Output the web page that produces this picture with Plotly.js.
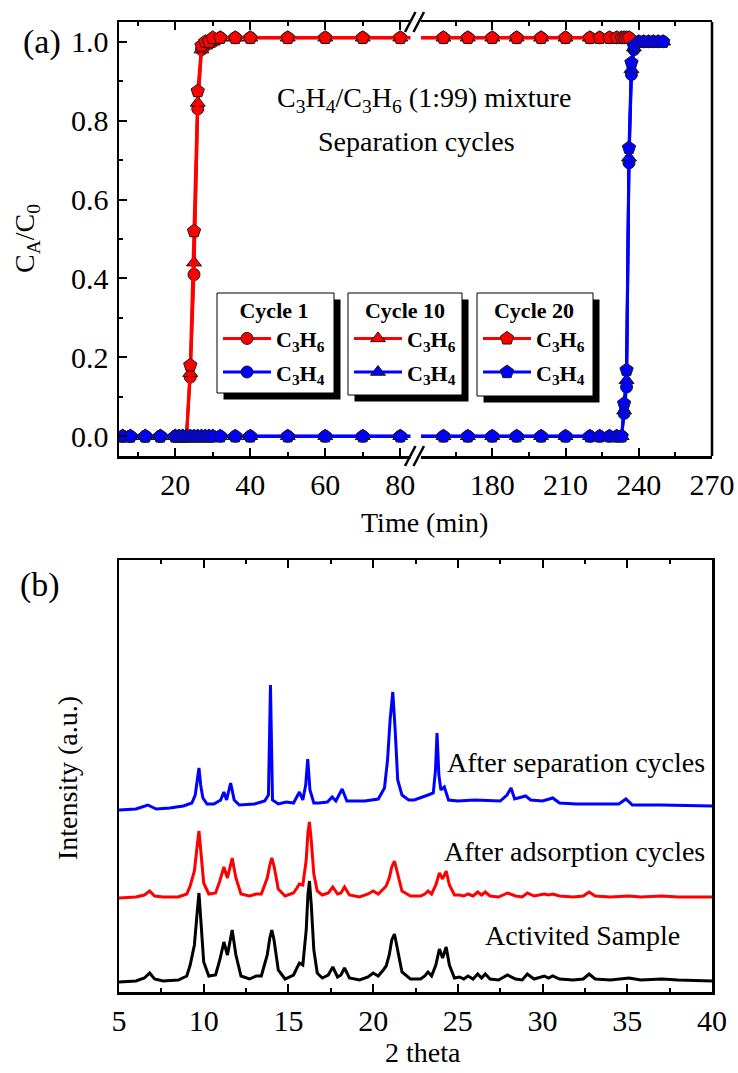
<!DOCTYPE html>
<html><head><meta charset="utf-8">
<script src="https://cdn.plot.ly/plotly-3.0.1.min.js"></script>
<style>html,body{margin:0;padding:0;background:#fff;}#chart{width:738px;height:1073px;}</style>
</head><body><div id="chart"></div>
<script>
// ---------------- Panel (a): breakthrough data ----------------
const timeC3H6 = [6, 8, 12, 16, 20, 21, 22, 23, 24, 25, 26, 27, 28, 29, 30, 32, 36, 40, 50, 60, 70, 80,
  160, 170, 180, 190, 200, 210, 220, 224, 228, 231, 233, 234, 235, 236];
const timeC3H4 = [6, 8, 12, 16, 20, 21, 22, 23, 24, 25, 26, 27, 28, 29, 30, 32, 36, 40, 50, 60, 70, 80,
  160, 170, 180, 190, 200, 210, 220, 224, 228, 231, 233, 234, 235, 236, 237, 238, 240, 242, 244, 246, 248, 250];

const c3h6Cycle1  = [0,0,0,0,0,0,0,0, 0.15,0.41,0.83,0.98,0.99,1.00,1.00,
  1.01,1.01,1.01,1.01,1.01,1.01,1.01,1.01,1.01,1.01,1.01,1.01,1.01,1.01,1.01,1.01,1.01,1.01,1.01,1.01,1.01];
const c3h6Cycle10 = [0,0,0,0,0,0,0,0, 0.16,0.44,0.845,0.98,0.99,1.00,1.00,
  1.01,1.01,1.01,1.01,1.01,1.01,1.01,1.01,1.01,1.01,1.01,1.01,1.01,1.01,1.01,1.01,1.01,1.01,1.01,1.01,1.01];
const c3h6Cycle20 = [0,0,0,0,0,0,0,0, 0.18,0.52,0.875,0.99,1.00,1.00,1.01,
  1.01,1.01,1.01,1.01,1.01,1.01,1.01,1.01,1.01,1.01,1.01,1.01,1.01,1.01,1.01,1.01,1.01,1.01,1.01,1.01,1.01];

const c3h4Cycle1  = [0,0,0,0,0,0,0,0,0,0,0,0,0,0,0,0,0,0,0,0,0,0,0,0,0,0,0,0,0,0,0,0,0,
  0.058,0.125,0.693,0.917,0.98, 1.0,1.0,1.0,1.0,1.0,1.0];
const c3h4Cycle10 = [0,0,0,0,0,0,0,0,0,0,0,0,0,0,0,0,0,0,0,0,0,0,0,0,0,0,0,0,0,0,0,0,0,
  0.065,0.142,0.706,0.93,0.985, 1.0,1.0,1.0,1.0,1.0,1.0];
const c3h4Cycle20 = [0,0,0,0,0,0,0,0,0,0,0,0,0,0,0,0,0,0,0,0,0,0,0,0,0,0,0,0,0,0,0,0,0,
  0.083,0.168,0.731,0.947,0.99, 1.0,1.0,1.0,1.0,1.0,1.0];

const cycleNames = ['Cycle 1', 'Cycle 10', 'Cycle 20'];
const seg1TickVals = [20, 40, 60, 80];
const seg2TickVals = [180, 210, 240, 270];

// ---------------- Panel (b): PXRD data ----------------
const twoThetaA = [5.0,6.0,6.5,6.81,7.1,7.6,8.5,9.0,9.2,9.45, 9.6,9.72,9.85,10.0,10.3,10.7,10.95,11.19,11.4,11.68,
  11.9,12.2,12.7,13.1,13.4,13.75,13.9,14.02,14.15,14.4, 14.8,15.3,15.5,15.65,15.85,16.05,16.15,16.24,16.35,16.5,
  16.7,17.0,17.35,17.62,17.9,18.1,18.31,18.6,19.2,19.7, 20.0,20.3,20.6,20.77,20.95,21.1,21.26,21.45,21.7,22.2,
  22.8,23.05,23.24,23.45,23.7,23.91,24.1,24.31,24.5,24.8, 25.1,25.35,25.6,25.9,26.17,26.4,26.62,26.9,27.4,27.93,
  28.4,28.8,29.1,29.5,30.1,30.35,30.6,31.0,31.8,32.4, 32.75,33.1,34.0,35.1,35.8,37.05,38.0,40.0];
const activated = [10,11,14,19,13,11,12,16,27,47, 77,99,67,30,16,17,32,50,37,62,
  37,16,13,16,16,37,54,62,52,22, 13,17,24,29,27,62,97,111,87,42,
  19,14,17,25,15,17,24,14,12,15, 19,16,22,26,37,52,58,42,20,13,
  13,16,20,16,27,43,34,45,27,14, 15,13,16,13,18,14,18,13,12,17,
  13,12,18,13,16,14,16,13,12,13, 18,13,12,14,12,13,12,11];
const afterAdsorption = [94,95,97,101,96,95,95,98,106,121, 144,161,137,109,98,99,111,125,114,134,
  114,98,96,98,98,114,127,134,126,103, 96,99,104,108,107,132,159,170,151,118,
  101,97,99,105,98,99,105,97,95,98, 101,98,103,106,114,125,131,118,101,96,
  96,98,101,98,107,119,113,121,107,97, 97,96,98,96,100,97,100,96,95,99,
  96,95,99,96,98,97,98,96,95,96, 100,96,95,96,95,96,95,95];
const twoThetaB = [5.0,6.0,6.7,7.2,8.0,8.8,9.3,9.5,9.62,9.72, 9.82,9.95,10.2,10.6,11.0,11.19,11.35,11.59,11.8,12.1,
  13.0,13.6,13.82,13.94,14.06,14.4,14.87,15.3,15.65,15.85, 16.02,16.14,16.27,16.5,16.8,17.3,17.58,17.8,18.17,18.45,
  19.5,20.3,20.67,20.85,21.0,21.16,21.3,21.45,21.7,22.1, 22.43,23.0,23.24,23.55,23.68,23.77,23.88,24.0,24.2,24.45,
  25.0,26.0,27.5,27.9,28.14,28.35,29.0,29.3,30.0,30.6, 31.0,32.0,33.0,34.5,34.92,35.3,37.0,40.0];
const afterSeparation = [182,183,187,183,184,186,189,197,212,224, 207,194,188,188,192,200,192,209,192,187,
  188,191,197,307,192,188,190,189,200,192, 207,233,202,189,189,190,195,191,203,191,
  191,193,204,232,272,300,262,212,197,192, 192,195,197,199,222,259,217,202,205,192,
  191,192,191,197,204,193,196,192,191,194, 189,188,188,188,193,187,187,186];

// ---------------- layout helpers ----------------
const F = 'Liberation Serif, Times New Roman, serif';
const L = 119, R = 712, T = 22, B = 992;
const px = p => (p - L) / (R - L);
const py = p => (B - p) / (B - T);
const RED = '#ff0000', BLUE = '#0000ff';
const symbols = ['circle', 'triangle-up', 'pentagon'];
const msize = [12, 13, 14];
const legendIds = ['legend', 'legend2', 'legend3'];

const c3h6 = [c3h6Cycle1, c3h6Cycle10, c3h6Cycle20];
const c3h4 = [c3h4Cycle1, c3h4Cycle10, c3h4Cycle20];
const name6 = '<b>C<sub>3</sub>H<sub>6</sub></b>';
const name4 = '<b>C<sub>3</sub>H<sub>4</sub></b>';

const traces = [];
function addSeries(x, y, color, i, name, gid) {
  ['x', 'x3'].forEach((xa, k) => {
    traces.push({
      type: 'scatter', mode: 'lines+markers', x: x, y: y, xaxis: xa, yaxis: 'y',
      name: name, legend: legendIds[i], showlegend: k === 0, legendgroup: gid + i,
      line: {color: color, width: 3},
      marker: {symbol: symbols[i], size: msize[i], color: color, line: {color: '#1a1a1a', width: 1}}
    });
  });
}
for (let i = 0; i < 3; i++) addSeries(timeC3H6, c3h6[i], RED, i, name6, 'c3h6_');
for (let i = 0; i < 3; i++) addSeries(timeC3H4, c3h4[i], BLUE, i, name4, 'c3h4_');

traces.push({type:'scatter', mode:'lines', x: twoThetaA, y: activated, xaxis:'x2', yaxis:'y2', showlegend:false, line:{color:'#000', width:3}});
traces.push({type:'scatter', mode:'lines', x: twoThetaA, y: afterAdsorption, xaxis:'x2', yaxis:'y2', showlegend:false, line:{color:RED, width:3}});
traces.push({type:'scatter', mode:'lines', x: twoThetaB, y: afterSeparation, xaxis:'x2', yaxis:'y2', showlegend:false, line:{color:BLUE, width:3}});

const tickFont = {family: F, size: 30, color: '#000'};
const axBase = {showline: true, linecolor: '#000', linewidth: 2.5, ticks: 'inside', ticklen: 8, tickwidth: 2,
  tickcolor: '#000', showgrid: false, zeroline: false, tickfont: tickFont, fixedrange: true};
const minorBase = {ticks: 'inside', ticklen: 4, tickwidth: 2, tickcolor: '#000', showgrid: false};

const splitX = px(419);

const legendBoxes = [[217, 293, 334, 393], [348, 293, 462, 395], [477, 293, 593, 396]];
const legends = {};
legendBoxes.forEach((b, i) => {
  legends[legendIds[i]] = {
    x: px(b[0] + 1), y: py(b[1] - 4), xanchor: 'left', yanchor: 'top', xref: 'paper', yref: 'paper',
    bgcolor: 'rgba(0,0,0,0)', borderwidth: 0, itemwidth: 48, traceorder: 'grouped', tracegroupgap: 2,
    font: {family: F, size: 22, color: '#000'},
    title: {text: '<b>' + cycleNames[i] + '</b>', side: 'top center', font: {family: F, size: 22, color: '#000'}},
    itemclick: false, itemdoubleclick: false
  };
});

const shapes = [];
legendBoxes.forEach(b => {
  shapes.push({type:'rect', xref:'paper', yref:'paper', layer:'above', x0: px(b[0] + 6.5), x1: px(b[2] + 6.5),
    y0: py(b[3] + 6.5), y1: py(b[1] + 6.5), fillcolor:'#000', line:{width:0}});
  shapes.push({type:'rect', xref:'paper', yref:'paper', layer:'above', x0: px(b[0]), x1: px(b[2]),
    y0: py(b[3]), y1: py(b[1]), fillcolor:'#fff', line:{color:'#000', width:1}});
});
// right border of panel (a)
shapes.push({type:'line', xref:'paper', yref:'paper', layer:'above', x0:1, x1:1, y0: py(456), y1: 1,
  line:{color:'#000', width:2.5}});
// axis break: white gaps and // marks
[[8, 50], [424, 467]].forEach(g => {
  shapes.push({type:'rect', xref:'paper', yref:'paper', layer:'above', x0: px(410.5), x1: px(421),
    y0: py(g[1]), y1: py(g[0]), fillcolor:'#fff', line:{width:0}});
});
[22, 456].forEach(yc => {
  [0, 8.5].forEach(dx => {
    shapes.push({type:'line', xref:'paper', yref:'paper', layer:'above',
      x0: px(405 + dx), y0: py(yc + 10), x1: px(415.5 + dx), y1: py(yc - 10), line:{color:'#000', width:2.5}});
  });
});

const ann = (text, x, y, size, opts) => Object.assign({text: text, x: px(x), y: py(y), xref:'paper', yref:'paper',
  showarrow:false, font:{family:F, size:size, color:'#000'}, xanchor:'center', yanchor:'middle'}, opts || {});

const annotations = [
  ann('(a)', 42, 42, 34),
  ann('(b)', 40, 585, 34),
  ann('C<sub>A</sub>/C<sub>0</sub>', 27, 239, 28, {textangle: -90}),
  ann('Time (min)', 424, 522, 28),
  ann('C<sub>3</sub>H<sub>4</sub>/C<sub>3</sub>H<sub>6</sub> (1:99) mixture', 424, 99, 28),
  ann('Separation cycles', 416, 141, 28),
  ann('Intensity (a.u.)', 67, 778, 28, {textangle: -90}),
  ann('2 theta', 423, 1052, 28),
  ann('After separation cycles', 707, 762, 28, {xanchor: 'right'}),
  ann('After adsorption cycles', 707, 851, 28, {xanchor: 'right'}),
  ann('Activited Sample', 582, 935, 28)
];

const layout = {
  width: 738, height: 1073, margin: {l: L, r: 738 - R, t: T, b: 1073 - B, pad: 0},
  paper_bgcolor: '#fff', plot_bgcolor: '#fff', font: {family: F, color: '#000'},
  xaxis: Object.assign({}, axBase, {domain: [0, splitX], range: [5, 85], anchor: 'y', tickvals: seg1TickVals,
    mirror: 'ticks', minor: Object.assign({}, minorBase, {tickvals: [10, 30, 50, 70]})}),
  xaxis3: Object.assign({}, axBase, {domain: [splitX, 1], range: [150, 270], anchor: 'y', tickvals: seg2TickVals,
    mirror: 'ticks', minor: Object.assign({}, minorBase, {tickvals: [165, 195, 225, 255]})}),
  yaxis: Object.assign({}, axBase, {domain: [py(456), 1], range: [-0.05, 1.05], anchor: 'x', dtick: 0.2, tick0: 0,
    tickformat: '.1f', ticklabelstandoff: 2, minor: Object.assign({}, minorBase, {dtick: 0.1})}),
  xaxis2: Object.assign({}, axBase, {domain: [0, 1], range: [5, 40], anchor: 'y2', dtick: 5, tick0: 0,
    mirror: 'ticks', minor: Object.assign({}, minorBase, {dtick: 2.5})}),
  yaxis2: Object.assign({}, axBase, {domain: [0, py(560)], range: [0, 432], anchor: 'x2', ticks: '',
    showticklabels: false, mirror: true}),
  shapes: shapes,
  annotations: annotations,
  showlegend: true
};
Object.assign(layout, legends);

Plotly.newPlot('chart', traces, layout, {displayModeBar: false, staticPlot: true});
</script>
</body></html>
